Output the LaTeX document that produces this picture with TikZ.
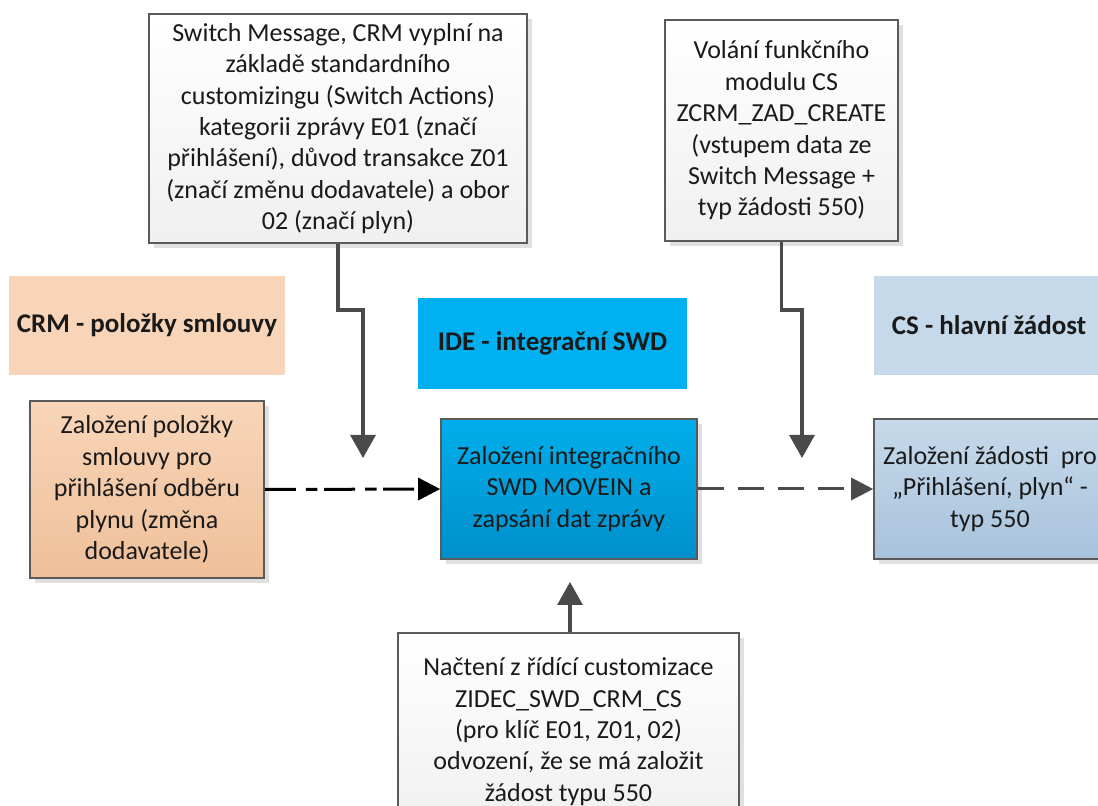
\documentclass[tikz,border=0pt]{standalone}
\usepackage{fontspec}
\setmainfont{Carlito}
\usetikzlibrary{arrows.meta,shadows}
\definecolor{peach}{HTML}{F8D5B8}
\definecolor{peachdk}{HTML}{EFC09A}
\definecolor{cyanb}{HTML}{00B0F0}
\definecolor{cyantop}{HTML}{00AEEB}
\definecolor{cyanbot}{HTML}{0090CC}
\definecolor{lblue}{HTML}{C5D9EA}
\definecolor{lbluetop}{HTML}{C6D9EA}
\definecolor{lbluebot}{HTML}{A8C3DC}
\definecolor{bordergray}{HTML}{5A5A5A}
\definecolor{arrowgray}{HTML}{4A4A4A}
\definecolor{txt}{HTML}{1A1A1A}
\tikzset{
  box/.style={draw=bordergray, line width=0.8pt, align=center, inner sep=2pt,
    text=txt, font=\fontsize{13}{15.7}\selectfont,
    drop shadow={shadow xshift=2.5pt, shadow yshift=-2.5pt, fill=black!12, opacity=1}},
  notebox/.style={box, top color=white, bottom color=black!6},
  banner/.style={draw=none, align=center, text=txt, font=\bfseries\fontsize{13.5}{16}\selectfont},
  solidarrow/.style={draw=arrowgray, line width=1.6pt, -{Triangle[length=11.5pt,width=12.5pt]}},
}
\begin{document}
\begin{tikzpicture}[x=0.5pt,y=-0.5pt]
\useasboundingbox (0,0) rectangle (1098,806);
\clip (0,0) rectangle (1098,806);
% banners
\node[banner, fill=peach, minimum width=138pt, minimum height=49.5pt] (crmb) at (147,325.5) {CRM - položky smlouvy};
\node[banner, fill=cyanb, minimum width=134.5pt, minimum height=45.5pt] (ideb) at (552.5,343.5) {IDE - integrační SWD};
\node[banner, fill=lblue, minimum width=115pt, minimum height=49.5pt] (csb) at (989,325.5) {CS - hlavní žádost};
% note boxes
\node[notebox, minimum width=189pt, minimum height=114.5pt] (sm) at (338,128.5)
  {Switch Message, CRM vyplní na\\ základě standardního\\ customizingu (Switch Actions)\\ kategorii zprávy E01 (značí\\ přihlášení), důvod transakce Z01\\ (značí změnu dodavatele) a obor\\ 02 (značí plyn)};
\node[notebox, minimum width=116.5pt, minimum height=110.5pt] (vf) at (781.5,130.5)
  {Volání funkčního\\ modulu CS\\ ZCRM\_ZAD\_CREATE\\ (vstupem data ze\\ Switch Message +\\ typ žádosti 550)};
\node[notebox, minimum width=170.5pt, minimum height=98.5pt] (bb) at (568.5,731.5)
  {Načtení z řídící customizace\\ ZIDEC\_SWD\_CRM\_CS\\ (pro klíč E01, Z01, 02)\\ odvození, že se má založit\\ žádost typu 550};
% process boxes
\node[box, top color=peach, bottom color=peachdk, minimum width=117pt, minimum height=88.5pt] (lb) at (147,489.5)
  {Založení položky\\ smlouvy pro\\ přihlášení odběru\\ plynu (změna\\ dodavatele)};
\node[box, top color=cyantop, bottom color=cyanbot, minimum width=128pt, minimum height=70pt] (mb) at (569,489)
  {Založení integračního\\ SWD MOVEIN a\\ zapsání dat zprávy};
\node[box, top color=lbluetop, bottom color=lbluebot, minimum width=116pt, minimum height=70pt] (rb) at (990,489)
  {Založení žádosti\ \ pro\\ „Přihlášení, plyn“ -\\ typ 550};
% free ends
\coordinate (t1) at (363,458);
\coordinate (t2) at (802,458);
\coordinate (t3) at (570,582);
% connectors
\draw[solidarrow] (sm.south) -- (338,310) -- (363,310) -- (t1);
\draw[solidarrow] (vf.south) -- (781.5,310) -- (802,310) -- (t2);
\draw[solidarrow] (bb.north -| t3) -- (t3);
\draw[black, line width=1.5pt, dash pattern=on 15.5pt off 5pt on 5.8pt off 3.3pt,
  -{Triangle[length=11pt,width=11pt]}] (lb.east) -- (mb.west);
\draw[arrowgray, line width=1.5pt, dash pattern=on 13.3pt off 6.7pt,
  -{Triangle[length=11pt,width=11pt]}] (mb.east) -- (rb.west);
\end{tikzpicture}
\end{document}
